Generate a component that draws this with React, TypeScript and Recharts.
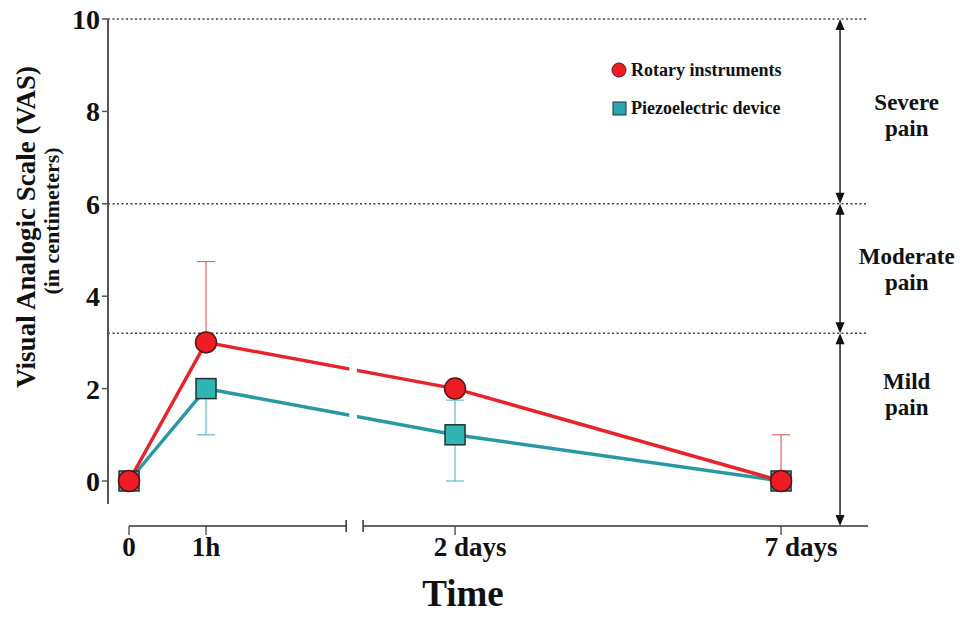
import React from "react"
import {
  LineChart,
  Line,
  XAxis,
  YAxis,
  ReferenceLine,
  ReferenceArea,
  ReferenceDot,
  ErrorBar,
  Legend
} from "recharts"

// time points
const timeLabels = ["0", "1h", "2 days", "7 days"]
const timeHours = [0, 1, 48, 168]

// VAS means and one-sided error bars
const rotaryMean = [0, 3, 2, 0]
const rotaryErrUp = [0, 1.75, 0, 1]
const piezoMean = [0, 2, 1, 0]
const piezoErrDown = [0, 1, 1, 0]
const piezoErrUp = [0, 0, 0.75, 0]

const yTicks = [0, 2, 4, 6, 8, 10]
const painThresholds = [10, 6, 3.2]
const painLabels = [["Severe", "pain"], ["Moderate", "pain"], ["Mild", "pain"]]
const painLabelAt = [7.95, 4.6, 1.9]

// axis geometry (in axis units, 1 unit = 1 hour on the left part)
const Y_MIN = -0.974
const X_MIN = -0.273
const X_MAX = 9.597
const LEFT_BREAK = 2.82
const RIGHT_BREAK = 3.04
const TWO_DAYS_POS = 4.234
const DAY_UNIT = 0.8468
const ARROW_X = 9.234
const PAIN_TEXT_X = 10.1

const FONT = "'Liberation Serif', 'Times New Roman', serif"
const RED = "#e8232b"
const TEAL = "#2898a3"

const axisPos = (h: number) =>
  h <= LEFT_BREAK ? h : TWO_DAYS_POS + (h / 24 - 2) * DAY_UNIT

const data = timeLabels.map((label, i) => ({
  label,
  pos: axisPos(timeHours[i]),
  rotary: rotaryMean[i],
  piezo: piezoMean[i],
  rotaryErr: [0, rotaryErrUp[i]],
  piezoErr: [piezoErrDown[i], piezoErrUp[i]]
}))

const tickShift: { [k: string]: number } = { "2 days": 15, "7 days": 20 }

const XTick = ({ x, y, payload }: any) => {
  const label = timeLabels[data.findIndex((d) => Math.abs(d.pos - payload.value) < 1e-6)]
  return (
    <text
      x={x + (tickShift[label] || 0)}
      y={y + 19}
      textAnchor="middle"
      fontFamily={FONT}
      fontWeight="bold"
      fontSize={27}
      fill="#111"
    >
      {label}
    </text>
  )
}

const YTick = ({ x, y, payload }: any) => (
  <text
    x={x}
    y={y + 10}
    textAnchor="end"
    fontFamily={FONT}
    fontWeight="bold"
    fontSize={28}
    fill="#111"
  >
    {payload.value}
  </text>
)

const RedDot = ({ cx, cy, index }: any) => (
  <circle key={"r" + index} cx={cx} cy={cy} r={10.5} fill="#ee1c25" stroke="#5b1414" strokeWidth={1.5} />
)

const TealDot = ({ cx, cy, index }: any) => (
  <rect
    key={"t" + index}
    x={cx - 10}
    y={cy - 10}
    width={20}
    height={20}
    fill="#2fb5b2"
    stroke="#1c3434"
    strokeWidth={1.5}
  />
)

const DoubleArrow = ({ x1, y1, y2 }: any) => (
  <g>
    <line x1={x1} y1={y1 + 6} x2={x1} y2={y2 - 6} stroke="#222" strokeWidth={1.5} />
    <polygon points={`${x1},${y1} ${x1 - 4.5},${y1 + 11} ${x1 + 4.5},${y1 + 11}`} fill="#111" />
    <polygon points={`${x1},${y2} ${x1 - 4.5},${y2 - 11} ${x1 + 4.5},${y2 - 11}`} fill="#111" />
  </g>
)

const renderLegend = () => (
  <div style={{ fontFamily: FONT, fontWeight: "bold", fontSize: 18, color: "#111" }}>
    <div style={{ display: "flex", alignItems: "center", height: 24 }}>
      <svg width={20} height={20}>
        <circle cx={10} cy={10} r={7} fill="#ee1c25" stroke="#5b1414" strokeWidth={1} />
      </svg>
      <span style={{ marginLeft: 2 }}>Rotary instruments</span>
    </div>
    <div style={{ display: "flex", alignItems: "center", height: 24, marginTop: 14 }}>
      <svg width={20} height={20}>
        <rect x={4} y={4} width={13} height={13} fill="#2aa6b2" stroke="#1c3434" strokeWidth={1} />
      </svg>
      <span style={{ marginLeft: 2 }}>Piezoelectric device</span>
    </div>
  </div>
)

export default function App() {
  const bands = painThresholds.map((top, i) => ({
    top,
    bottom: i + 1 < painThresholds.length ? painThresholds[i + 1] : Y_MIN
  }))

  return (
    <div style={{ position: "absolute", left: 0, top: 0, width: 962, height: 619, background: "#fff" }}>
      <LineChart
        width={962}
        height={619}
        data={data}
        margin={{ top: 19, right: 94, bottom: 33, left: 0 }}
      >
        <XAxis
          type="number"
          dataKey="pos"
          domain={[X_MIN, X_MAX]}
          ticks={data.map((d) => d.pos)}
          tick={<XTick />}
          axisLine={false}
          tickLine={{ stroke: "#333", strokeWidth: 1.2 }}
          tickSize={9}
          height={60}
          allowDataOverflow
        />
        <YAxis
          type="number"
          domain={[Y_MIN, 10]}
          ticks={yTicks}
          tick={<YTick />}
          axisLine={false}
          tickLine={{ stroke: "#555", strokeWidth: 1.5 }}
          tickSize={6}
          tickMargin={2}
          width={108}
          allowDataOverflow
        />

        {painThresholds.map((t) => (
          <ReferenceLine
            key={"th" + t}
            y={t}
            stroke="#444"
            strokeWidth={1.5}
            strokeDasharray="2 2.5"
          />
        ))}

        {/* y axis line */}
        <ReferenceLine
          segment={[{ x: X_MIN, y: -0.5 }, { x: X_MIN, y: 10 }]}
          stroke="#555"
          strokeWidth={2}
          ifOverflow="visible"
        />
        {/* broken x axis */}
        <ReferenceLine
          segment={[{ x: 0, y: Y_MIN }, { x: LEFT_BREAK, y: Y_MIN }]}
          stroke="#333"
          strokeWidth={1.5}
          ifOverflow="visible"
        />
        <ReferenceLine
          segment={[{ x: RIGHT_BREAK, y: Y_MIN }, { x: X_MAX, y: Y_MIN }]}
          stroke="#333"
          strokeWidth={1.5}
          ifOverflow="visible"
        />
        {[LEFT_BREAK, RIGHT_BREAK].map((b) => (
          <ReferenceLine
            key={"br" + b}
            segment={[{ x: b, y: Y_MIN - 0.13 }, { x: b, y: Y_MIN + 0.13 }]}
            stroke="#333"
            strokeWidth={1.5}
            ifOverflow="visible"
          />
        ))}

        {bands.map((b, i) => (
          <ReferenceLine
            key={"ar" + i}
            segment={[{ x: ARROW_X, y: b.top }, { x: ARROW_X, y: b.bottom }]}
            shape={<DoubleArrow />}
            ifOverflow="visible"
          />
        ))}
        {painLabels.map((lines, i) => (
          <ReferenceDot
            key={"pl" + i}
            x={PAIN_TEXT_X}
            y={painLabelAt[i]}
            ifOverflow="visible"
            shape={(p: any) => (
              <text
                x={p.cx}
                y={p.cy - 4}
                textAnchor="middle"
                fontFamily={FONT}
                fontWeight="bold"
                fontSize={23}
                fill="#111"
              >
                <tspan x={p.cx}>{lines[0]}</tspan>
                <tspan x={p.cx} dy={26}>{lines[1]}</tspan>
              </text>
            )}
          />
        ))}

        <Line
          dataKey="piezo"
          stroke={TEAL}
          strokeWidth={3.5}
          dot={TealDot}
          activeDot={false}
          isAnimationActive={false}
        >
          <ErrorBar dataKey="piezoErr" width={9} stroke="#5bbfc2" strokeWidth={1.2} direction="y" />
        </Line>
        <Line
          dataKey="rotary"
          stroke={RED}
          strokeWidth={3.5}
          dot={RedDot}
          activeDot={false}
          isAnimationActive={false}
        >
          <ErrorBar dataKey="rotaryErr" width={9} stroke="#e86464" strokeWidth={1.2} direction="y" />
        </Line>

        {/* gap in the lines at the axis break */}
        <ReferenceArea
          x1={2.86}
          x2={2.96}
          y1={1.0}
          y2={2.8}
          fill="#fff"
          fillOpacity={1}
          stroke="none"
          zIndex={2000}
        />

        <Legend
          layout="horizontal"
          verticalAlign="middle"
          align="center"
          content={renderLegend}
          wrapperStyle={{ left: 609, top: 58, width: 240 }}
        />

        <text
          transform="translate(35,227) rotate(-90)"
          textAnchor="middle"
          fontFamily={FONT}
          fontWeight="bold"
          fontSize={27}
          fill="#111"
        >
          Visual Analogic Scale (VAS)
        </text>
        <text
          transform="translate(59,221) rotate(-90)"
          textAnchor="middle"
          fontFamily={FONT}
          fontWeight="bold"
          fontSize={22}
          fill="#111"
        >
          (in centimeters)
        </text>
        <text
          x={463}
          y={606}
          textAnchor="middle"
          fontFamily={FONT}
          fontWeight="bold"
          fontSize={37}
          fill="#111"
        >
          Time
        </text>
      </LineChart>
    </div>
  )
}
